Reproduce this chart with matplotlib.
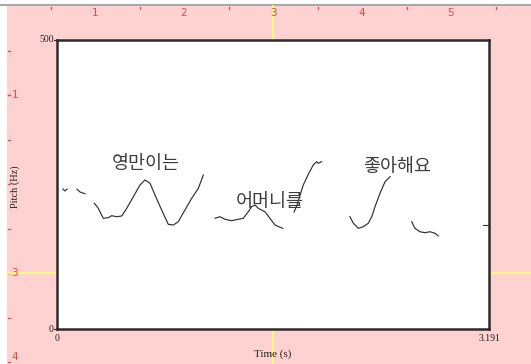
import numpy as np
import matplotlib.pyplot as plt
from matplotlib.lines import Line2D

# pitch track, one list per voiced stretch (time in s, f0 in Hz)
seg_times = [
    [0.044, 0.059, 0.074],
    [0.148, 0.170, 0.207],
    [0.276, 0.305, 0.342, 0.379, 0.404, 0.441, 0.478, 0.515, 0.564, 0.613,
     0.650, 0.687, 0.724, 0.773, 0.822, 0.859, 0.896, 0.945, 0.995, 1.044, 1.081],
    [1.167, 1.204, 1.241, 1.290, 1.339, 1.376, 1.413, 1.438, 1.463, 1.487,
     1.536, 1.573, 1.610, 1.647, 1.667],
    [1.751, 1.773, 1.819, 1.861, 1.893, 1.918, 1.930, 1.955],
    [2.164, 2.189, 2.226, 2.262, 2.299, 2.325, 2.349, 2.386, 2.423, 2.460],
    [2.620, 2.644, 2.681, 2.718, 2.755, 2.792, 2.817],
]
seg_f0 = [
    [242.2, 238.8, 242.2],
    [242.0, 237.0, 234.0],
    [217.5, 208.8, 191.5, 192.6, 196.0, 194.3, 195.5, 208.8, 228.9, 249.1,
     257.8, 252.1, 231.8, 205.9, 181.1, 179.9, 185.6, 205.9, 226.1, 243.4, 266.4],
    [191.5, 194.3, 189.8, 187.4, 189.8, 191.5, 202.9, 211.6, 214.5, 208.8,
     202.9, 191.5, 179.9, 176.0, 174.2],
    [202.4, 214.5, 249.1, 269.9, 283.7, 289.5, 286.7, 289.5],
    [194.3, 182.9, 174.2, 177.0, 182.9, 194.3, 211.6, 234.8, 254.8, 263.5],
    [185.6, 174.2, 168.3, 166.6, 168.3, 165.6, 160.9],
]

words = ['영만이는', '어머니를', '좋아해요']
word_t = [0.657, 1.570, 2.514]
word_f0 = [285, 219, 280]

t_end = 3.191
f0_max = 500
mark_f0 = 180

ruler_top = [1, 2, 3, 4, 5]
ruler_left = [1, 3, 4]
cursor = 3.0

W, H = 531, 364
fig = plt.figure(figsize=(W / 100, H / 100), dpi=100)
fig.patch.set_facecolor('white')

# background "picture window": pink paper with inch rulers
bg = fig.add_axes([0, 0, 1, 1])
bg.set_xlim(0, W)
bg.set_ylim(H, 0)
bg.axis('off')
pink = '#ffd2d2'
rcol = '#e84848'
bg.add_patch(plt.Rectangle((7, 6), W - 7, H - 6, color=pink, lw=0))
bg.plot([0, W], [4.5, 4.5], color='#a8a8a8', lw=1.5)

ppi = 89.0
ox, oy = 6, 6
for k in np.arange(0.5, 6.0, 1.0):
    x = ox + k * ppi
    bg.plot([x, x], [6.5, 8.5], color=rcol, lw=0.9)
for n in ruler_top:
    bg.text(ox + n * ppi, 13.5, str(n), color=rcol, fontsize=7.5,
            ha='center', va='center', family='DejaVu Sans')
for k in np.arange(0.5, 4.0, 0.5):
    y = oy + k * ppi
    bg.plot([7.5, 9.5], [y, y], color=rcol, lw=0.9)
for n in ruler_left:
    y = oy + n * ppi
    bg.plot([7.5, 10], [y, y], color=rcol, lw=0.9)
    bg.text(11.5, min(y, 357), str(n), color=rcol, fontsize=7.5,
            ha='left', va='center', family='DejaVu Sans')

# yellow selection cursors
bg.plot([ox + cursor * ppi] * 2, [5.5, H], color='#ffff70', lw=1.3)
bg.plot([7, W], [oy + cursor * ppi] * 2, color='#ffff70', lw=1.3)

# the pitch plot itself
ax = fig.add_axes([57 / W, 1 - 329 / H, (489 - 57) / W, (329 - 40) / H])
ax.set_facecolor('white')
ax.set_xlim(0, t_end)
ax.set_ylim(0, f0_max)
ax.set_xticks([])
ax.set_yticks([])
for s in ax.spines.values():
    s.set_color('#2c2c2c')
    s.set_linewidth(1.8)

for ts, fs in zip(seg_times, seg_f0):
    ax.plot(ts, fs, color='#303030', lw=0.85)

for w, t, f in zip(words, word_t, word_f0):
    ax.text(t, f, w, fontsize=13.3, color='#3c3c3c', ha='center', va='center',
            family=['Noto Sans CJK KR', 'DejaVu Sans'])

# small marks and labels around the frame
ax.add_line(Line2D([t_end - 0.045, t_end], [mark_f0, mark_f0], color='#303030', lw=0.8))
ax.add_line(Line2D([-0.02, 0], [f0_max, f0_max], color='#303030', lw=0.8, clip_on=False))
ax.add_line(Line2D([-0.02, 0], [0, 0], color='#303030', lw=0.8, clip_on=False))

serif = 'Liberation Serif'
ax.text(-0.025, f0_max, '500', fontsize=7, ha='right', va='center', family=serif, color='#202020')
ax.text(-0.025, 0, '0', fontsize=7, ha='right', va='center', family=serif, color='#202020')
ax.text(0, -8, '0', fontsize=7, ha='center', va='top', family=serif, color='#202020')
ax.text(t_end, -8, '3.191', fontsize=7, ha='center', va='top', family=serif, color='#202020')
fig.text(273 / W, 1 - 354 / H, 'Time (s)', fontsize=8, ha='center', va='center',
         family=serif, color='#202020')
fig.text(15 / W, 1 - 187 / H, 'Pitch (Hz)', fontsize=7.5, ha='center', va='center',
         rotation=90, family=serif, color='#202020')

fig.savefig('out.png', dpi=100)
